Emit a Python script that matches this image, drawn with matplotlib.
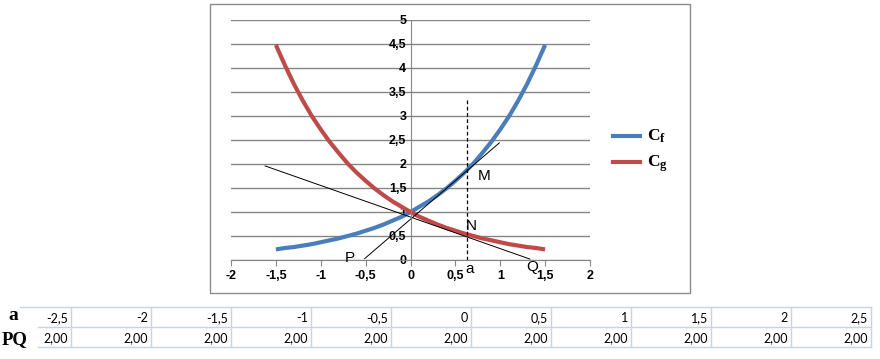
import matplotlib
matplotlib.use("Agg")
import numpy as np
import matplotlib.pyplot as plt
from matplotlib.lines import Line2D
from matplotlib.patches import Rectangle
from matplotlib.ticker import FuncFormatter

W, H = 880, 359

# curve data
x_vals = [-1.5, -1.4, -1.3, -1.2, -1.1, -1.0, -0.9, -0.8, -0.7, -0.6, -0.5,
          -0.4, -0.3, -0.2, -0.1, 0.0, 0.1, 0.2, 0.3, 0.4, 0.5,
          0.6, 0.7, 0.8, 0.9, 1.0, 1.1, 1.2, 1.3, 1.4, 1.5]
cf_vals = [0.22, 0.25, 0.27, 0.30, 0.33, 0.37, 0.41, 0.45, 0.50, 0.55, 0.61,
           0.67, 0.74, 0.82, 0.90, 1.00, 1.11, 1.22, 1.35, 1.49, 1.65,
           1.82, 2.01, 2.23, 2.46, 2.72, 3.00, 3.32, 3.67, 4.06, 4.48]
cg_vals = [4.48, 4.06, 3.67, 3.32, 3.00, 2.72, 2.46, 2.23, 2.01, 1.82, 1.65,
           1.49, 1.35, 1.22, 1.11, 1.00, 0.90, 0.82, 0.74, 0.67, 0.61,
           0.55, 0.50, 0.45, 0.41, 0.37, 0.33, 0.30, 0.27, 0.25, 0.22]

# construction lines
a_val = 0.63
a_top = 3.35
tan_f_x = [-0.51, 0.99]
tan_f_y = [0.03, 2.44]
tan_g_x = [-1.62, 1.33]
tan_g_y = [1.96, 0.02]

# point labels
lbl_text = ["P", "Q", "M", "N", "a"]
lbl_x = [-0.68, 1.36, 0.82, 0.68, 0.66]
lbl_y = [0.05, -0.14, 1.74, 0.71, -0.19]

# table under the chart
table_a = [-2.5, -2, -1.5, -1, -0.5, 0, 0.5, 1, 1.5, 2, 2.5]
table_pq = [2.00, 2.00, 2.00, 2.00, 2.00, 2.00, 2.00, 2.00, 2.00, 2.00, 2.00]

BLUE = "#4a7ebb"
RED = "#be4b48"
GRID = "#868686"


def comma(v, pos=None):
    s = ("%g" % v).replace(".", ",")
    return "0" if s == "-0" else s


def fx(px):
    return px / W


def fy(py):
    return 1 - py / H


fig = plt.figure(figsize=(W / 100, H / 100), dpi=100)

# chart frame
fig.add_artist(Rectangle((fx(210), fy(293)), 480 / W, 289 / H, fill=False,
                         ec="#8c8c8c", lw=1, transform=fig.transFigure))

ax = fig.add_axes([fx(231), fy(260), (590 - 231) / W, 240 / H])
ax.set_xlim(-2, 2)
ax.set_ylim(0, 5)
ax.set_xticks(np.arange(-2, 2.01, 0.5))
ax.set_yticks(np.arange(0, 5.01, 0.5))
ax.xaxis.set_major_formatter(FuncFormatter(comma))
ax.yaxis.set_major_formatter(FuncFormatter(comma))
ax.yaxis.grid(True, color=GRID, lw=1)
ax.set_axisbelow(True)
for s in ["top", "right"]:
    ax.spines[s].set_visible(False)
ax.spines["left"].set_position(("data", 0))
ax.spines["left"].set_color(GRID)
ax.spines["bottom"].set_color(GRID)
ax.tick_params(axis="x", length=4, color=GRID, pad=3)
ax.tick_params(axis="y", length=0, pad=3)
for t in ax.get_xticklabels() + ax.get_yticklabels():
    t.set_fontfamily("Liberation Sans")
    t.set_fontweight("bold")
    t.set_fontsize(9)

ax.plot(x_vals, cf_vals, color=BLUE, lw=3, solid_capstyle="butt")
ax.plot(x_vals, cg_vals, color=RED, lw=3, solid_capstyle="butt")
ax.plot(tan_f_x, tan_f_y, color="black", lw=0.7)
ax.plot(tan_g_x, tan_g_y, color="black", lw=0.7)
ax.plot([a_val, a_val], [0, a_top], color="black", lw=0.9, ls=(0, (3, 2)))

for t, x, y in zip(lbl_text, lbl_x, lbl_y):
    ax.text(x, y, t, ha="center", va="center", fontsize=11,
            family="Liberation Sans", clip_on=False)

# legend
for py, col, sub in [(136, BLUE, "f"), (162, RED, "g")]:
    fig.add_artist(Line2D([fx(613), fx(640)], [fy(py), fy(py)], color=col,
                          lw=3, transform=fig.transFigure))
    fig.text(fx(647), fy(py), "C", ha="left", va="center", fontsize=12.5,
             family="Liberation Serif", weight="bold")
    fig.text(fx(660), fy(py + 3), sub, ha="left", va="center", fontsize=9,
             family="Liberation Serif", weight="bold")

# table
LINE = "#c5d3e3"
fig.add_artist(Line2D([fx(20), fx(871)], [fy(307)] * 2, color=LINE, lw=1,
                      transform=fig.transFigure))
for py in [327, 347]:
    fig.add_artist(Line2D([fx(38), fx(871)], [fy(py)] * 2, color=LINE, lw=1,
                          transform=fig.transFigure))
edges = [71 + 80 * i for i in range(len(table_a))]
for e in edges:
    fig.add_artist(Line2D([fx(e), fx(e)], [fy(307), fy(347)], color=LINE,
                          lw=1, transform=fig.transFigure))
for e, av, pq in zip(edges, table_a, table_pq):
    fig.text(fx(e - 3), fy(318), comma(av), ha="right", va="center",
             fontsize=9, family="Lato")
    fig.text(fx(e - 3), fy(338), ("%.2f" % pq).replace(".", ","),
             ha="right", va="center", fontsize=9, family="Lato")

fig.text(fx(13), fy(316), "a", ha="center", va="center", fontsize=14,
         family="Liberation Serif", weight="bold")
fig.text(fx(15), fy(340), "PQ", ha="center", va="center", fontsize=13.5,
         family="Liberation Serif", weight="bold")

fig.savefig("out.png", dpi=100)
